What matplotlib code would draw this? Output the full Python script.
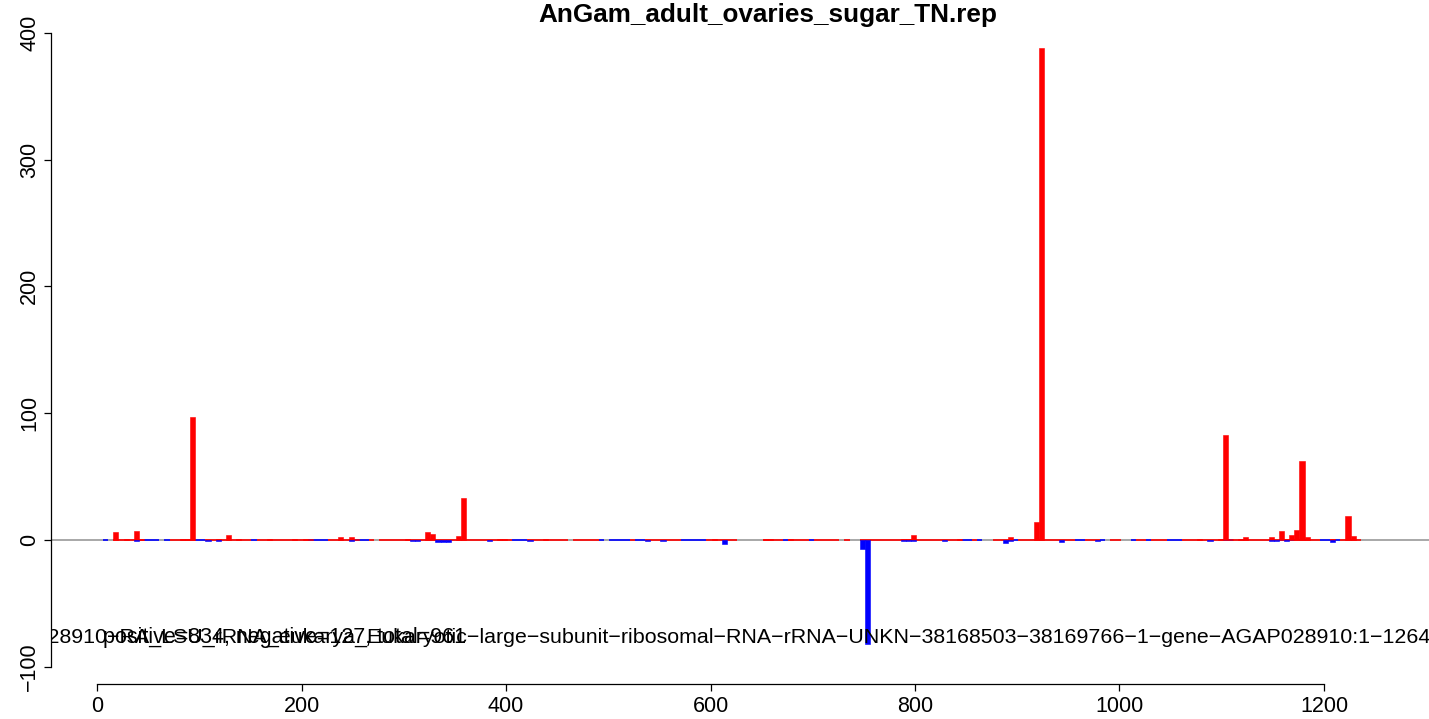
import numpy as np
import matplotlib
matplotlib.use("Agg")
import matplotlib.pyplot as plt

plt.rcParams['font.family'] = ['Liberation Sans', 'DejaVu Sans']

title = "AnGam_adult_ovaries_sugar_TN.rep"
summary_text = "positive=834, negative=127, total=961"
gene_text = ("AGAP028910-RA_LSU_rRNA_eukarya_Eukaryotic-large-subunit-ribosomal-RNA-rRNA-"
             "UNKN-38168503-38169766-1-gene-AGAP028910:1-1264")

bin_width = 5
bin_start0 = 6
n_bins = 246

# positive (red) values per bin index
pos_bins = [2, 4, 6, 7, 15, 16, 17, 22, 24, 26, 32, 37, 39, 40, 46, 48, 49, 59, 63, 64, 69, 70,
            77, 78, 86, 119, 129, 130, 134, 156, 157, 158, 167, 177, 182, 183, 214, 218, 219,
            220, 222, 223, 228, 230, 231, 232, 233, 234, 235, 240, 243, 244]
pos_vals = [6.5, 1, 7, 1, 1, 1, 97, 1, 4, 1, 1, 1, 1, 1, 2, 2, 1, 1, 6, 5, 3, 33,
            1, 1, 1, 1, 1, 1, 1, 1, 1, 4, 1, 2.5, 14, 388, 1, 1, 83,
            1, 1, 2.5, 2, 7, 1, 4, 8, 62, 2, 0.5, 19, 3]
# negative (blue) values per bin index
neg_bins = [6, 20, 22, 48, 60, 61, 65, 66, 67, 75, 83, 106, 109, 121, 148, 149, 156, 157, 158,
            164, 176, 177, 187, 194, 216, 228, 229, 231, 240]
neg_vals = [-1, -1, -1, -1, -1, -1, -2, -2, -2, -1, -1, -1, -1, -3.5, -7, -82, -1, -1, -1,
            -1, -2.5, -1, -2, -1, -1, -1, -1, -1, -1.5]
# bins without any coverage (gray baseline visible)
gap_bins = [1, 11, 53, 91, 98, 124, 125, 126, 127, 128, 144, 146, 147, 172, 173, 196, 199, 200]
# covered bins whose zero line is blue
blue_zero_bins = [0, 8, 9, 10, 12, 18, 19, 29, 40, 41, 42, 43, 49, 50, 51, 80, 81, 82, 97, 99,
                  100, 101, 102, 104, 105, 113, 114, 115, 116, 117, 133, 138, 168, 169, 171,
                  178, 190, 191, 195, 201, 204, 208, 209, 210, 219, 220, 230, 232, 238, 239, 241]

x_ticks = [0, 200, 400, 600, 800, 1000, 1200]
y_ticks = [-100, 0, 100, 200, 300, 400]

W, H = 1429, 719
fig = plt.figure(figsize=(W / 100, H / 100), dpi=100)

# axes geometry in pixels
ax_l, ax_r, ax_t, ax_b = 51, 1429, 24, 684
ax = fig.add_axes([ax_l / W, 1 - ax_b / H, (ax_r - ax_l) / W, (ax_b - ax_t) / H])
ax.set_xlim(-45, 1302.7)
ax.set_ylim(-113.6, 406.9)

# zero reference line
ax.axhline(0, color="#9a9a9a", lw=1.2, zorder=1)

def left(i):
    return bin_start0 + i * bin_width

gap_set = set(gap_bins)
blue_set = set(blue_zero_bins)
red_zero = [left(i) for i in range(n_bins) if i not in gap_set and i not in blue_set]
blue_zero = [left(i) for i in range(n_bins) if i in blue_set]
ax.hlines([0] * len(red_zero), red_zero, [v + bin_width for v in red_zero],
          color="#FF0000", lw=1.2, zorder=2)
ax.hlines([0] * len(blue_zero), blue_zero, [v + bin_width for v in blue_zero],
          color="#0000FF", lw=1.2, zorder=2)

ax.bar([left(i) for i in pos_bins], pos_vals, width=bin_width, align='edge',
       color="#FF0000", edgecolor="#FF0000", linewidth=0.4, zorder=3)
ax.bar([left(i) for i in neg_bins], neg_vals, width=bin_width, align='edge',
       color="#0000FF", edgecolor="#0000FF", linewidth=0.4, zorder=3)

# axes styling (R base style)
for s in ['top', 'right']:
    ax.spines[s].set_visible(False)
ax.spines['left'].set_bounds(-100, 400)
ax.spines['bottom'].set_bounds(0, 1200)
for s in ['left', 'bottom']:
    ax.spines[s].set_linewidth(0.9)
ax.set_xticks(x_ticks)
ax.set_xticklabels([str(v) for v in x_ticks])
ax.set_yticks(y_ticks)
ax.set_yticklabels([str(v).replace('-', '\u2212') for v in y_ticks], rotation=90, va='center')
ax.tick_params(axis='both', direction='out', length=5.2, width=0.9, labelsize=15.5)
ax.tick_params(axis='x', pad=3.6)
ax.tick_params(axis='y', pad=2.5)

# texts
fig.text(768 / W, 1 - 15 / H, title, ha='center', va='center', fontsize=18.8, fontweight='bold')
fig.text(103 / W, 1 - 637 / H, summary_text, ha='left', va='center', fontsize=15.5)
t = fig.text(1431 / W, 1 - 637 / H, gene_text.replace('-', '\u2212'), ha='right', va='center',
             fontsize=15.4)
t.set_clip_on(True)
t.set_clip_box(ax.bbox)

fig.savefig("out.png", dpi=100)
